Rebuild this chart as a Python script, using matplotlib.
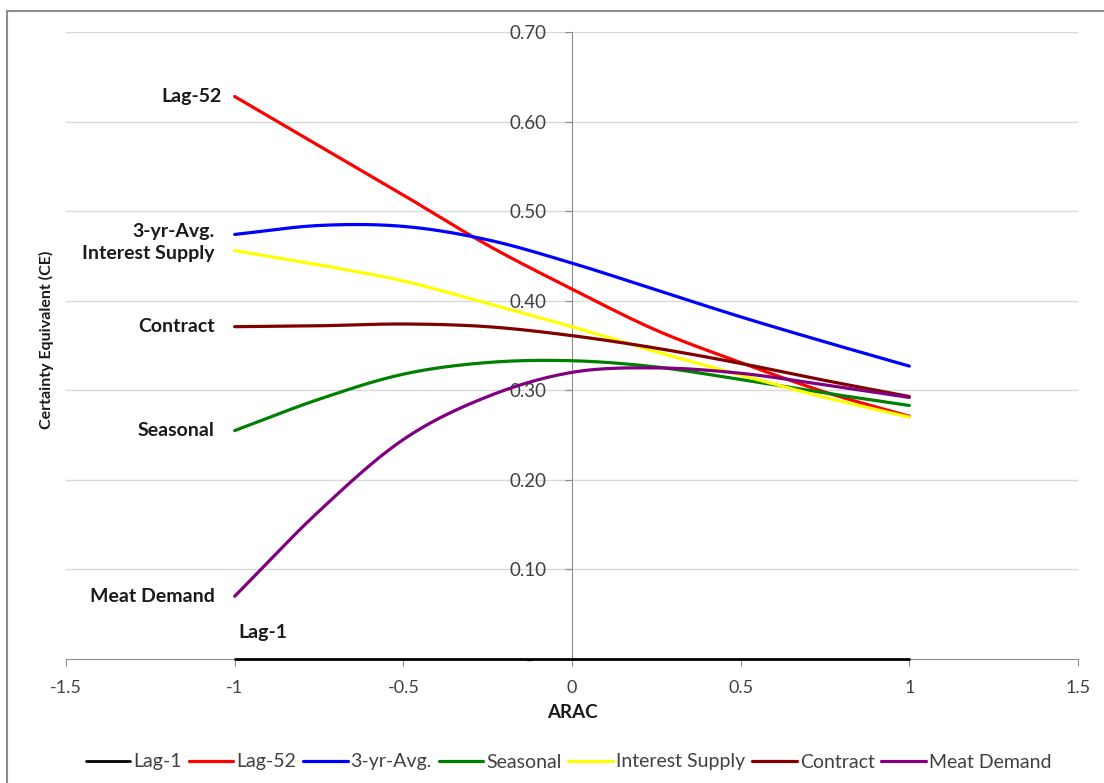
import matplotlib
matplotlib.use("Agg")
import matplotlib.pyplot as plt
import numpy as np
from matplotlib.patches import Rectangle

plt.rcParams["font.family"] = ["Lato", "DejaVu Sans"]

# ARAC values where each curve was read
arac = [-1.0, -0.75, -0.5, -0.25, 0.0, 0.25, 0.5, 0.75, 1.0]

series_names = ["Lag-1", "Lag-52", "3-yr-Avg.", "Seasonal",
                "Interest Supply", "Contract", "Meat Demand"]
lag_1 = [0.0, 0.0, 0.0, 0.0, 0.0, 0.0, 0.0, 0.0, 0.0]
lag_52 = [0.628, 0.573, 0.518, 0.462, 0.413, 0.367, 0.331, 0.298, 0.271]
three_yr_avg = [0.474, 0.484, 0.483, 0.468, 0.442, 0.412, 0.382, 0.354, 0.327]
seasonal = [0.255, 0.290, 0.318, 0.331, 0.333, 0.326, 0.312, 0.297, 0.283]
interest_supply = [0.456, 0.440, 0.422, 0.397, 0.371, 0.343, 0.317, 0.292, 0.270]
contract = [0.371, 0.372, 0.374, 0.371, 0.361, 0.347, 0.330, 0.311, 0.293]
meat_demand = [0.070, 0.165, 0.245, 0.293, 0.320, 0.325, 0.319, 0.306, 0.292]

series_values = [lag_1, lag_52, three_yr_avg, seasonal,
                 interest_supply, contract, meat_demand]
colors = ["#000000", "#FF0000", "#0000FF", "#008000",
          "#FFFF00", "#800000", "#800080"]

yticks = [0.0, 0.1, 0.2, 0.3, 0.4, 0.5, 0.6, 0.7]
ytick_labels = ["-   ", "0.10", "0.20", "0.30", "0.40", "0.50", "0.60", "0.70"]
xticks = [-1.5, -1.0, -0.5, 0.0, 0.5, 1.0, 1.5]
xtick_labels = ["-1.5", "-1", "-0.5", "0", "0.5", "1", "1.5"]


def _smooth(x, y, steps=24):
    """Excel-like smoothed line: Catmull-Rom curve through the points."""
    x = np.asarray(x, float)
    y = np.asarray(y, float)
    px = np.concatenate([[2 * x[0] - x[1]], x, [2 * x[-1] - x[-2]]])
    py = np.concatenate([[2 * y[0] - y[1]], y, [2 * y[-1] - y[-2]]])
    out_x, out_y = [], []
    t = np.linspace(0, 1, steps, endpoint=False)
    for i in range(1, len(px) - 2):
        for arr, out in ((px, out_x), (py, out_y)):
            p0, p1, p2, p3 = arr[i - 1], arr[i], arr[i + 1], arr[i + 2]
            out.extend(0.5 * ((2 * p1) + (-p0 + p2) * t
                              + (2 * p0 - 5 * p1 + 4 * p2 - p3) * t ** 2
                              + (-p0 + 3 * p1 - 3 * p2 + p3) * t ** 3))
    out_x.append(x[-1])
    out_y.append(y[-1])
    return np.array(out_x), np.array(out_y)


fig = plt.figure(figsize=(11.04, 7.83), dpi=100)
ax = fig.add_axes([0.0598, 0.1584, 0.9166, 0.8007])

# Outer chart frame (only left/top edges visible)
fig.patches.append(Rectangle((7 / 1104, -0.1), 1.2, 1.1 - 11 / 783,
                             transform=fig.transFigure, fill=False,
                             edgecolor="#8c8c8c", lw=1.5))

for yv in yticks[1:]:
    ax.axhline(yv, color="#d9d9d9", lw=1.0, zorder=0)

handles = []
for name, vals, col in zip(series_names, series_values, colors):
    sx, sy = _smooth(arac, vals)
    lw = 2.0 if name == "Lag-1" else 2.3
    h, = ax.plot(sx, sy, color=col, lw=lw, label=name,
                 solid_capstyle="round", zorder=3, clip_on=False)
    handles.append(h)

ax.set_xlim(-1.5, 1.5)
ax.set_ylim(0, 0.7)

for side in ["top", "right"]:
    ax.spines[side].set_visible(False)
ax.spines["left"].set_position(("data", 0))
ax.spines["bottom"].set_position(("data", 0))
ax.spines["left"].set_color("#8c8c8c")
ax.spines["bottom"].set_color("#8c8c8c")
ax.spines["left"].set_zorder(1)

ax.set_yticks(yticks)
ax.set_yticklabels(ytick_labels)
ax.set_xticks(xticks)
ax.set_xticklabels(xtick_labels)
ax.tick_params(axis="y", direction="out", length=5, color="#8c8c8c",
               labelsize=13.5, labelcolor="#404040", pad=13)
ax.tick_params(axis="x", direction="out", length=5, color="#8c8c8c",
               labelsize=13, labelcolor="#404040", pad=10)

# Series labels at the left end of each curve (offsets in pixels)
label_dx = {"Lag-52": -13}
label_dy = {"3-yr-Avg.": 3, "Interest Supply": -3}
for name, vals in zip(series_names[1:], series_values[1:]):
    ax.annotate(name, (arac[0], vals[0]),
                xytext=(label_dx.get(name, -20), label_dy.get(name, 0)),
                textcoords="offset pixels", ha="right", va="center",
                fontsize=14, fontweight="bold", color="#1a1a1a")
ax.text(-0.99, 0.03, "Lag-1", ha="left", va="center", fontsize=14,
        fontweight="bold", color="#1a1a1a")

fig.text(572 / 1104, 1 - 712 / 783, "ARAC", ha="center", va="center",
         fontsize=13.5, fontweight="bold", color="#1a1a1a")
fig.text(46 / 1104, 1 - 340 / 783, "Certainty Equivalent (CE)",
         ha="center", va="center", rotation=90, fontsize=11.5,
         fontweight="bold", color="#1a1a1a")

fig.legend(handles=handles, loc="center", bbox_to_anchor=(0.515, 1 - 762 / 783),
           ncol=7, frameon=False, fontsize=14, handlelength=2.3,
           handletextpad=0.15, columnspacing=0.35, labelcolor="#404040")

fig.savefig("out.png", dpi=100)
